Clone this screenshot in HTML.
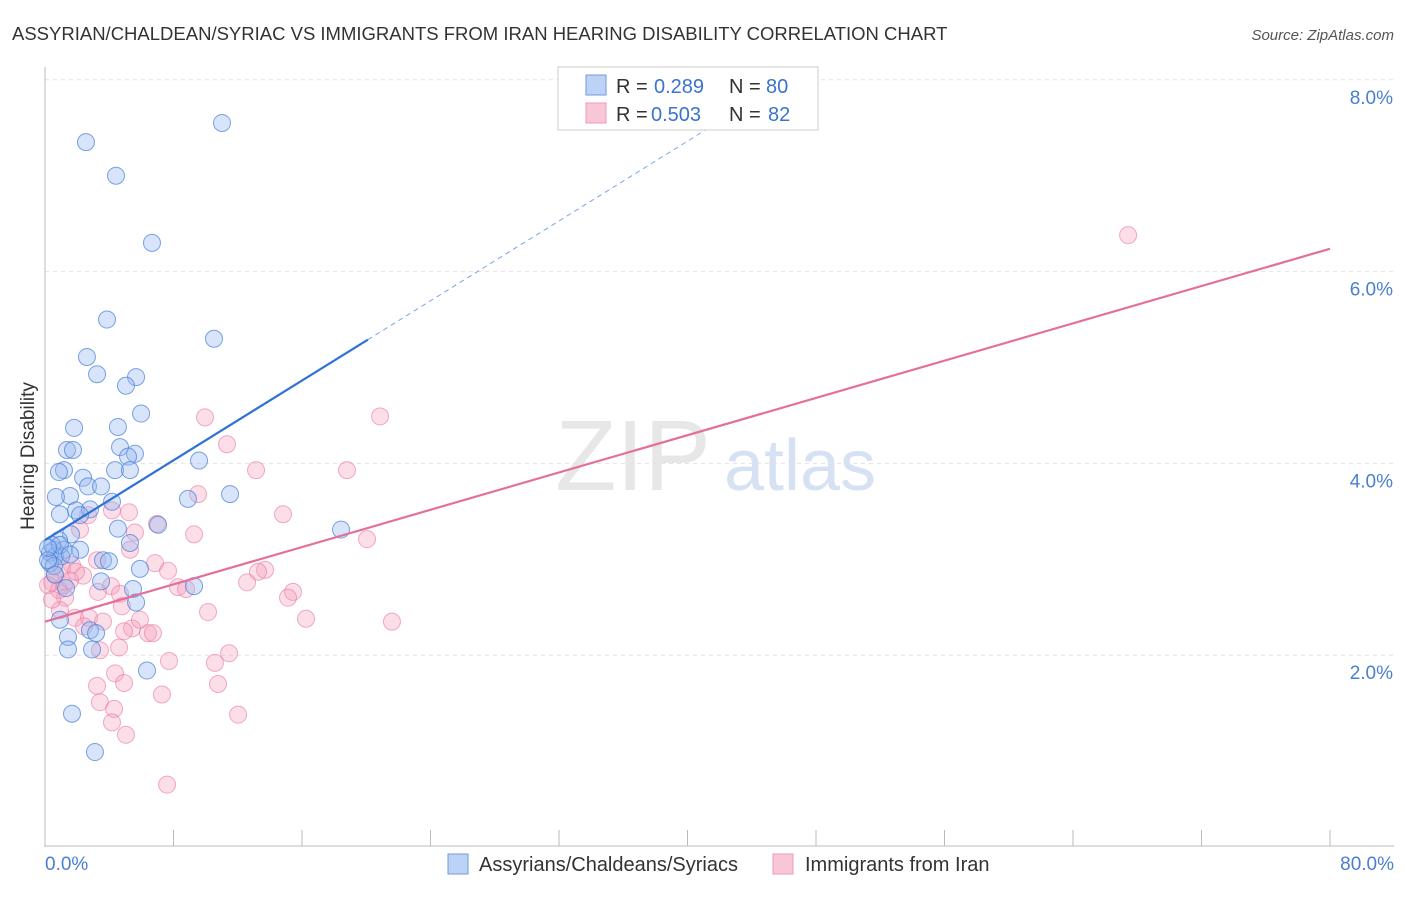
<!DOCTYPE html>
<html><head><meta charset="utf-8"><style>
body{margin:0;background:#fff;font-family:"Liberation Sans",sans-serif;}
svg text{font-family:"Liberation Sans",sans-serif;}
</style></head><body>
<svg id="chart" width="1406" height="892" xmlns="http://www.w3.org/2000/svg">
<text x="12" y="40" font-size="18.5" fill="#333">ASSYRIAN/CHALDEAN/SYRIAC VS IMMIGRANTS FROM IRAN HEARING DISABILITY CORRELATION CHART</text>
<text x="1394" y="40" font-size="15" fill="#555" text-anchor="end" font-style="italic">Source: ZipAtlas.com</text>
<text transform="translate(34,456) rotate(-90)" font-size="19" fill="#333" text-anchor="middle">Hearing Disability</text>
<g>
<text x="633" y="490" font-size="100" fill="#ddd" font-family="Liberation Serif" text-anchor="middle" opacity="0.7">ZIP</text>
<text x="800" y="490" font-size="72" fill="#c5d6ee" text-anchor="middle" opacity="0.7">atlas</text>
</g>
<g id="grid"></g>
<g id="axes"></g>
<g id="marks"></g>
<g id="lines"></g>
<g>
<rect x="558" y="67" width="260" height="63" fill="#fff" stroke="#ccc"/>
<rect x="586" y="75" width="20" height="20" fill="#bcd3f5" stroke="#6f9be0"/>
<rect x="586" y="103" width="20" height="20" fill="#f8c6d6" stroke="#ee9bb6"/>
<text x="616" y="93" font-size="20" fill="#333">R =</text>
<text x="654" y="93" font-size="20" fill="#3a73d0">0.289</text>
<text x="729" y="93" font-size="20" fill="#333">N =</text>
<text x="766" y="93" font-size="20" fill="#3a73d0">80</text>
<text x="616" y="121" font-size="20" fill="#333">R =</text>
<text x="651" y="121" font-size="20" fill="#3a73d0">0.503</text>
<text x="729" y="121" font-size="20" fill="#333">N =</text>
<text x="768" y="121" font-size="20" fill="#3a73d0">82</text>
</g>
<g>
<rect x="448" y="854" width="20" height="20" fill="#bcd3f5" stroke="#6f9be0"/>
<text x="479" y="871" font-size="20" fill="#333">Assyrians/Chaldeans/Syriacs</text>
<rect x="773" y="854" width="20" height="20" fill="#f8c6d6" stroke="#ee9bb6"/>
<text x="805" y="871" font-size="20" fill="#333">Immigrants from Iran</text>
</g>
</svg>
<script>
const blueX=[2.55,11.02,4.42,6.66,3.86,10.52,2.61,3.24,5.67,5.04,5.98,1.81,4.54,1.37,1.74,4.67,5.60,5.17,9.59,1.18,4.36,5.29,0.87,2.37,2.68,3.49,1.56,0.68,11.52,8.90,4.17,1.93,2.80,0.93,2.18,4.54,7.04,18.43,1.62,0.87,5.29,0.56,1.18,2.18,0.31,0.62,1.00,3.61,3.98,0.31,0.56,5.91,3.49,9.28,5.48,5.67,0.93,2.80,3.18,1.43,1.43,2.93,6.35,1.68,3.11,0.44,0.19,0.62,0.93,1.56,0.19,1.31];
const blueY=[7.35,7.55,7.00,6.30,5.50,5.30,5.11,4.93,4.90,4.81,4.52,4.37,4.38,4.14,4.14,4.17,4.10,4.07,4.03,3.93,3.93,3.93,3.91,3.85,3.76,3.76,3.66,3.65,3.68,3.63,3.60,3.51,3.52,3.47,3.46,3.32,3.36,3.31,3.26,3.20,3.17,3.10,3.10,3.10,3.07,3.03,3.03,2.99,2.98,2.96,2.93,2.90,2.77,2.72,2.69,2.55,2.37,2.26,2.23,2.19,2.06,2.06,1.84,1.39,0.99,3.15,2.99,2.84,3.15,3.05,3.12,2.70];
const pinkX=[67.43,9.96,20.86,11.33,13.14,18.80,9.53,4.17,2.68,5.23,6.97,14.82,2.18,5.60,9.28,20.05,5.29,3.24,6.85,13.70,1.68,2.37,7.66,13.26,12.58,8.28,8.78,15.44,15.13,4.11,1.18,0.44,0.87,1.25,3.30,4.67,0.93,4.79,1.87,2.74,10.15,16.25,21.60,3.61,5.42,6.41,6.72,4.92,2.43,3.42,4.61,11.46,7.72,10.58,4.36,3.24,4.92,10.77,7.28,3.42,4.30,12.02,4.17,5.04,7.60,0.19,0.62,1.06,1.56,1.93,0.44,5.91];
const pinkY=[6.38,4.48,4.49,4.20,3.93,3.93,3.68,3.51,3.46,3.49,3.37,3.47,3.31,3.28,3.26,3.21,3.10,2.99,2.96,2.89,2.94,2.83,2.88,2.87,2.76,2.71,2.69,2.66,2.60,2.72,2.73,2.76,2.68,2.60,2.66,2.64,2.47,2.51,2.39,2.39,2.45,2.38,2.35,2.35,2.28,2.23,2.23,2.25,2.30,2.05,2.08,2.02,1.94,1.92,1.81,1.68,1.71,1.70,1.59,1.51,1.44,1.38,1.30,1.17,0.65,2.73,2.84,2.91,2.78,2.87,2.58,2.37];
const blueFit=[3.20,0.104];
const pinkFit=[2.35,0.0486];
const yTicks=[2,4,6,8];
const xTickLabels=["0.0%","80.0%"];
const NS="http://www.w3.org/2000/svg";
const X=v=>45+v*1285/80;
const Y=v=>847-v*95.9;
function mk(tag,attrs,parent){const e=document.createElementNS(NS,tag);for(const k in attrs)e.setAttribute(k,attrs[k]);document.getElementById(parent).appendChild(e);return e;}
yTicks.forEach(t=>{
 const l=mk('line',{x1:45,x2:1394,y1:Y(t),y2:Y(t),stroke:'#e2e2e2','stroke-dasharray':'4,4'},'grid');
 
 
 const tx=mk('text',{x:1393,y:Y(t)+24,'font-size':19,fill:'#4a7fd0','text-anchor':'end'},'grid');
 tx.textContent=t.toFixed(1)+'%';
 
 
});
const ax=mk('line',{x1:45,x2:45,y1:67,y2:847,stroke:'#bbb'},'axes');


const bx=mk('line',{x1:45,x2:1394,y1:846,y2:846,stroke:'#bbb'},'axes');


for(let i=0;i<=10;i++){const tk=mk('line',{x1:X(i*8),x2:X(i*8),y1:830,y2:846,stroke:'#bbb'},'axes');
 
 }
const xl0=mk('text',{x:45,y:870,'font-size':19,fill:'#4a7fd0'},'axes');xl0.textContent=xTickLabels[0];


const xl1=mk('text',{x:1394,y:870,'font-size':19,fill:'#4a7fd0','text-anchor':'end'},'axes');xl1.textContent=xTickLabels[1];


pinkX.forEach((x,i)=>{const c=mk('circle',{cx:X(x),cy:Y(pinkY[i]),r:8.5,fill:'rgba(244,160,188,0.35)',stroke:'rgba(232,120,160,0.6)','stroke-width':1},'marks');
 
 });
blueX.forEach((x,i)=>{const c=mk('circle',{cx:X(x),cy:Y(blueY[i]),r:8.5,fill:'rgba(150,185,240,0.38)',stroke:'rgba(70,125,215,0.7)','stroke-width':1},'marks');
 
 });
const b1=mk('line',{x1:X(0),y1:Y(blueFit[0]),x2:X(20.1),y2:Y(blueFit[0]+blueFit[1]*20.1),stroke:'#2f72d6','stroke-width':2.2},'lines');


const b2=mk('line',{x1:X(20.1),y1:Y(blueFit[0]+blueFit[1]*20.1),x2:X(44.5),y2:Y(blueFit[0]+blueFit[1]*44.5),stroke:'#7aa6e6','stroke-width':1,'stroke-dasharray':'5,4'},'lines');


const p1=mk('line',{x1:X(0),y1:Y(pinkFit[0]),x2:X(80),y2:Y(pinkFit[0]+pinkFit[1]*80),stroke:'#e4709a','stroke-width':2.2},'lines');


</script>
</body></html>
